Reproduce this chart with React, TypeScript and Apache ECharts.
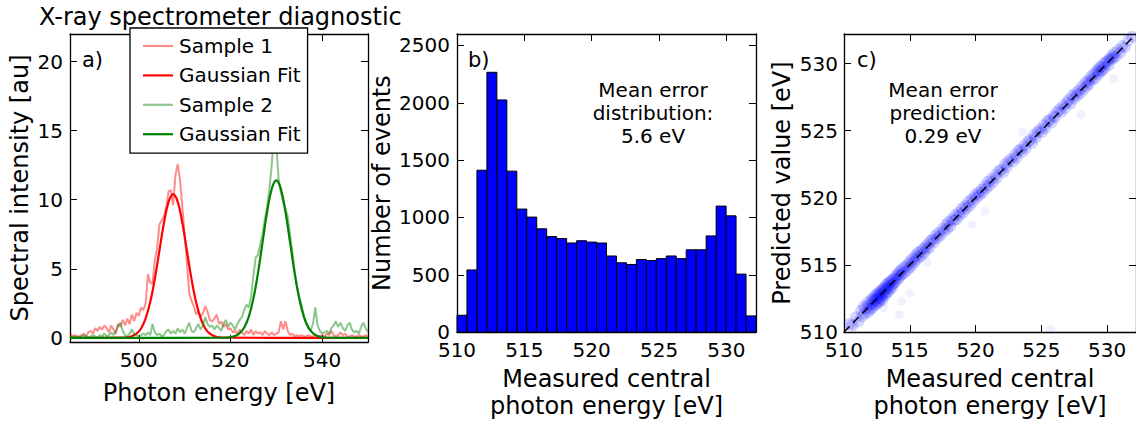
import React, { useEffect, useRef } from 'react';
import * as echarts from 'echarts';

const FONT = 'DejaVu Sans';

// ---------- Panel a: spectra ----------
const energyGrid = [
  485, 485.5, 486, 486.5, 487, 487.5, 488, 488.5, 489, 489.5,
  490, 490.5, 491, 491.5, 492, 492.5, 493, 493.5, 494, 494.5,
  495, 495.5, 496, 496.5, 497, 497.5, 498, 498.5, 499, 499.5,
  500, 500.5, 501, 501.5, 502, 502.5, 503, 503.5, 504, 504.5,
  505, 505.5, 506, 506.5, 507, 507.5, 508, 508.5, 509, 509.5,
  510, 510.5, 511, 511.5, 512, 512.5, 513, 513.5, 514, 514.5,
  515, 515.5, 516, 516.5, 517, 517.5, 518, 518.5, 519, 519.5,
  520, 520.5, 521, 521.5, 522, 522.5, 523, 523.5, 524, 524.5,
  525, 525.5, 526, 526.5, 527, 527.5, 528, 528.5, 529, 529.5,
  530, 530.5, 531, 531.5, 532, 532.5, 533, 533.5, 534, 534.5,
  535, 535.5, 536, 536.5, 537, 537.5, 538, 538.5, 539, 539.5,
  540, 540.5, 541, 541.5, 542, 542.5, 543, 543.5, 544, 544.5,
  545, 545.5, 546, 546.5, 547, 547.5, 548, 548.5, 549, 549.5,
  550,
];

const sample1 = [
  0.3, 0.1, 0.2, 0.1, 0.1, 0.2, 0.3, 0.1, 0.4, 0.5,
  0.3, 0.7, 0.5, 0.8, 0.6, 0.9, 0.7, 0.4, 0.9, 0.6,
  0.3, 1.0, 0.8, 1.3, 0.9, 1.4, 1.0, 1.7, 1.2, 1.8,
  1.6, 2.2, 2.0, 2.5, 4.6, 4.0, 3.9, 5.6, 6.5, 8.2,
  8.5, 8.8, 9.5, 10.6, 10.7, 9.6, 11.8, 12.6, 11.4, 9.5,
  7.5, 5.5, 3.2, 2.7, 2.3, 1.7, 1.9, 1.5, 1.8, 2.3,
  1.9, 1.3, 1.2, 1.4, 1.7, 1.0, 1.2, 0.8, 1.0, 0.6,
  0.7, 0.4, 0.5, 0.3, 0.6, 0.4, 0.2, 0.5, 0.3, 0.6,
  0.2, 0.5, 0.3, 0.4, 0.2, 0.5, 0.3, 0.2, 0.4, 0.2,
  0.3, 0.4, 1.2, 0.6, 1.2, 0.5, 0.2, 0.3, 0.1, 0.2,
  0.1, 0.2, 0.1, 0.1, 0.2, 0.1, 0.1, 0.2, 0.1, 0.1,
  0.2, 0.1, 0.3, 0.2, 0.5, 0.2, 0.1, 0.2, 0.4, 0.2,
  0.3, 0.1, 0.1, 0.2, 0.1, 0.1, 0.2, 0.1, 0.1, 0.2,
  0.1,
];

const sample2 = [
  0.0, 0.1, 0.0, 0.1, 0.0, 0.1, 0.2, 0.1, 0.0, 0.1,
  0.2, 0.1, 0.0, 0.2, 0.1, 0.3, 0.1, 0.2, 0.4, 0.2,
  0.5, 0.9, 1.1, 0.5, 0.2, 0.1, 0.3, 0.6, 0.3, 0.2,
  0.1, 0.2, 0.3, 0.2, 0.4, 0.2, 1.0, 0.4, 0.2, 0.3,
  0.1, 0.2, 0.5, 0.6, 0.3, 0.5, 0.3, 0.7, 0.4, 0.6,
  0.3, 0.7, 1.1, 0.5, 0.4, 0.7, 1.0, 0.6, 0.9, 1.5,
  1.0, 0.8, 0.9, 0.6, 0.9, 0.7, 0.5, 1.0, 1.3, 0.8,
  1.1, 0.9, 0.6, 1.0, 1.3, 1.5, 2.0, 2.4, 2.2, 3.0,
  4.5, 5.8, 6.0, 6.8, 7.5, 8.6, 9.5, 10.8, 12.5, 14.8,
  14.0, 11.5, 10.5, 9.8, 9.3, 8.8, 7.5, 6.2, 4.8, 3.8,
  3.0, 2.4, 1.6, 1.1, 0.7, 0.5, 1.0, 2.2, 0.9, 0.5,
  0.3, 0.4, 0.5, 0.3, 0.7, 0.9, 1.2, 0.8, 1.1, 0.7,
  0.5, 0.9, 1.1, 0.6, 0.4, 0.5, 0.3, 0.8, 1.1, 0.7,
  0.4,
];

const fit1Energy = [485, 496.5, 497.5, 498.5, 499.5, 500.5, 501.5, 502.5, 503.5, 504.5, 505.5, 506.5, 507.5, 508.5, 509.5, 510.5, 511.5, 512.5, 513.5, 514.5, 515.5, 516.5, 517.5, 518.5, 550];
const fit1Values = [0, 0.01, 0.04, 0.12, 0.3, 0.68, 1.41, 2.59, 4.27, 6.31, 8.33, 9.84, 10.4, 9.84, 8.33, 6.31, 4.27, 2.59, 1.41, 0.68, 0.3, 0.12, 0.04, 0.01, 0];
const fit2Energy = [485, 519, 520, 521, 522, 523, 524, 525, 526, 527, 528, 529, 530, 531, 532, 533, 534, 535, 536, 537, 538, 539, 540, 541, 550];
const fit2Values = [0, 0.01, 0.04, 0.13, 0.33, 0.75, 1.54, 2.84, 4.69, 6.92, 9.13, 10.78, 11.4, 10.78, 9.13, 6.92, 4.69, 2.84, 1.54, 0.75, 0.33, 0.13, 0.04, 0.01, 0];

const aXTicks = [500, 520, 540];
const aYTicks = [0, 5, 10, 15, 20];

// ---------- Panel b: histogram ----------
const binEdges = [510.0, 510.74, 511.48, 512.22, 512.96, 513.7, 514.44, 515.18, 515.92, 516.66, 517.4, 518.14, 518.88, 519.62, 520.36, 521.1, 521.84, 522.58, 523.32, 524.06, 524.8, 525.54, 526.28, 527.02, 527.76, 528.5, 529.24, 529.98, 530.72, 531.46, 532.2];
const histCounts = [147, 542, 1412, 2266, 2025, 1404, 1073, 1003, 901, 833, 816, 777, 797, 785, 777, 664, 605, 590, 633, 624, 641, 664, 641, 718, 718, 839, 1099, 1014, 506, 141];
const bXTicks = [510, 515, 520, 525, 530];
const bYTicks = [0, 500, 1000, 1500, 2000, 2500];

// ---------- Panel c: prediction scatter ----------
const predPoints = [
  [510.4, 510.6], [510.6, 510.5],
  [510.9, 511.1], [511.1, 510.8], [511.3, 511.6], [511.4, 511.2],
  [511.5, 511.9], [511.6, 511.4], [511.7, 511.8], [511.8, 512.2], [511.85, 511.5], [511.9, 512.0], [512.0, 511.7], [512.05, 512.4], [512.1, 512.1], [512.15, 511.8], [512.2, 512.5],
  [512.25, 512.3], [512.3, 512.0], [512.35, 512.7], [512.4, 512.4], [512.45, 512.1], [512.5, 512.8], [512.52, 512.5], [512.58, 512.2], [512.6, 512.9], [512.65, 512.6], [512.7, 512.3], [512.72, 513.0], [512.78, 512.8], [512.8, 512.5], [512.85, 513.1], [512.88, 512.7], [512.92, 512.4], [512.95, 513.2],
  [513.0, 512.9], [513.05, 513.3], [513.1, 512.7], [513.12, 513.1], [513.18, 513.5], [513.22, 512.9], [513.28, 513.3], [513.3, 513.6], [513.35, 513.0], [513.4, 513.4], [513.45, 513.7], [513.5, 513.2], [513.55, 513.8], [513.6, 513.5], [513.65, 513.3], [513.68, 513.9],
  [513.75, 513.6], [513.8, 514.0], [513.88, 513.7], [513.95, 514.2], [514.0, 513.9], [514.08, 514.3], [514.15, 514.0], [514.2, 514.5], [514.28, 514.2], [514.35, 514.6], [514.4, 514.3],
  [514.5, 514.8], [514.6, 514.4], [514.7, 514.9], [514.8, 514.6], [514.9, 515.1], [515.0, 514.8], [515.05, 515.3], [515.15, 515.0],
  [515.25, 515.5], [515.35, 515.2], [515.45, 515.7], [515.5, 515.4], [515.6, 515.9], [515.7, 515.6], [515.8, 516.0], [515.88, 515.7],
  [516.0, 516.2], [516.1, 515.9], [516.2, 516.4], [516.3, 516.2], [516.4, 516.6], [516.5, 516.3], [516.6, 516.8],
  [516.75, 516.9], [516.85, 516.7], [516.95, 517.2], [517.1, 517.0], [517.2, 517.4], [517.32, 517.2],
  [517.5, 517.7], [517.6, 517.5], [517.75, 518.0], [517.85, 517.7], [517.95, 518.2], [518.08, 517.9],
  [518.2, 518.4], [518.35, 518.3], [518.45, 518.7], [518.55, 518.4], [518.7, 518.9], [518.8, 518.7],
  [518.95, 519.2], [519.05, 518.9], [519.2, 519.4], [519.3, 519.2], [519.45, 519.7], [519.55, 519.4],
  [519.7, 519.9], [519.82, 519.7], [519.95, 520.2], [520.05, 520.0], [520.2, 520.4], [520.3, 520.2],
  [520.45, 520.6], [520.55, 520.4], [520.7, 520.9], [520.8, 520.7], [520.95, 521.2], [521.05, 520.9],
  [521.2, 521.4], [521.35, 521.2], [521.5, 521.7], [521.62, 521.5], [521.78, 522.0],
  [521.95, 522.1], [522.1, 521.9], [522.25, 522.5], [522.38, 522.3], [522.5, 522.7],
  [522.7, 522.9], [522.85, 522.7], [523.0, 523.2], [523.12, 523.0], [523.25, 523.5],
  [523.42, 523.6], [523.55, 523.4], [523.7, 523.9], [523.82, 523.7], [523.98, 524.2],
  [524.15, 524.3], [524.3, 524.1], [524.45, 524.7], [524.58, 524.5], [524.72, 524.9],
  [524.9, 525.1], [525.05, 524.9], [525.2, 525.4], [525.32, 525.2], [525.48, 525.7],
  [525.62, 525.8], [525.78, 525.6], [525.92, 526.1], [526.05, 526.0], [526.2, 526.4],
  [526.38, 526.6], [526.52, 526.4], [526.68, 526.9], [526.8, 526.7], [526.95, 527.1],
  [527.1, 527.3], [527.22, 527.0], [527.35, 527.6], [527.48, 527.4], [527.6, 527.8], [527.72, 527.6],
  [527.85, 528.0], [527.98, 527.8], [528.1, 528.3], [528.22, 528.1], [528.35, 528.6], [528.45, 528.3],
  [528.55, 528.7], [528.65, 528.5], [528.75, 529.0], [528.85, 528.8], [528.95, 529.2], [529.08, 528.9], [529.18, 529.4],
  [529.28, 529.5], [529.35, 529.2], [529.42, 529.7], [529.5, 529.4], [529.58, 529.8], [529.65, 529.5], [529.75, 530.0], [529.82, 529.7], [529.92, 530.1],
  [530.05, 530.2], [530.12, 529.9], [530.2, 530.4], [530.3, 530.3], [530.38, 530.6], [530.48, 530.4], [530.58, 530.8], [530.65, 530.5],
  [530.85, 531.0], [531.0, 530.8], [531.15, 531.3], [531.35, 531.2],
  [531.6, 531.7], [531.9, 532.0],
];
const outlierPoints = [
  [514.2, 511.3], [515.0, 512.9], [514.4, 512.3], [520.7, 519.0], [519.7, 518.0], [530.5, 528.9],
  [528.0, 526.2], [525.7, 510.2], [523.6, 524.9], [513.0, 511.8], [516.3, 515.2], [510.8, 510.4],
];
const identityLine = [[510, 510], [532.2, 532.2]];
const cTicks = [510, 515, 520, 525, 530];

const legendLabels: Record<string, string> = {
  'Sample 1': 'Sample 1',
  fit1: 'Gaussian Fit',
  'Sample 2': 'Sample 2',
  fit2: 'Gaussian Fit',
};

const zip = (xs: number[], ys: number[]) => xs.map((x, i) => [x, ys[i]]);

const lineAxis = { show: true, onZero: false, lineStyle: { color: '#000', width: 1.3 } };
const ticks = (vals: number[]) => ({
  show: true, inside: true, length: 7, customValues: vals,
  lineStyle: { color: '#000', width: 1 },
});
const labelStyle = { fontSize: 20, lineHeight: 16, color: '#000', fontFamily: FONT, formatter: (v: number) => String(v) };
const nameStyle = { fontSize: 24, color: '#000', fontFamily: FONT, lineHeight: 27 };

function mainX(grid: number, min: number, max: number, tv: number[], name: string, nameGap: number) {
  return {
    type: 'value', gridIndex: grid, position: 'bottom', min, max,
    axisLine: lineAxis, axisTick: ticks(tv),
    axisLabel: { ...labelStyle, customValues: tv, margin: 10 },
    splitLine: { show: false },
    name, nameLocation: 'middle', nameGap, nameTextStyle: nameStyle,
  };
}
function topX(grid: number, min: number, max: number, tv: number[]) {
  return {
    type: 'value', gridIndex: grid, position: 'top', min, max,
    axisLine: lineAxis, axisTick: ticks(tv),
    axisLabel: { show: false }, splitLine: { show: false },
  };
}
function mainY(grid: number, min: number, max: number, tv: number[], name: string, nameGap: number, margin: number) {
  return {
    type: 'value', gridIndex: grid, position: 'left', min, max,
    axisLine: lineAxis, axisTick: ticks(tv),
    axisLabel: { ...labelStyle, customValues: tv, margin },
    splitLine: { show: false },
    name, nameLocation: 'middle', nameGap, nameTextStyle: nameStyle,
  };
}
function rightY(grid: number, min: number, max: number, tv: number[]) {
  return {
    type: 'value', gridIndex: grid, position: 'right', min, max,
    axisLine: lineAxis, axisTick: ticks(tv),
    axisLabel: { show: false }, splitLine: { show: false },
  };
}

const textEl = (text: string, x: number, y: number, align: string, size = 20, lh = 23) => ({
  type: 'text', x, y, z: 100,
  style: { text, fill: '#000', font: `${size}px "${FONT}"`, fontSize: size, fontFamily: FONT, align, verticalAlign: 'middle', lineHeight: lh },
});

const option: any = {
  animation: false,
  backgroundColor: '#fff',
  grid: [
    { left: 70, top: 34, width: 298, height: 308 },
    { left: 457, top: 34, width: 299, height: 308 },
    { left: 844, top: 34, width: 299, height: 308 },
  ],
  xAxis: [
    mainX(0, 485, 550, aXTicks, 'Photon energy [eV]', 37),
    topX(0, 485, 550, aXTicks),
    mainX(1, 510, 532.2, bXTicks, 'Measured central\nphoton energy [eV]', 28),
    topX(1, 510, 532.2, bXTicks),
    mainX(2, 510, 532.2, cTicks, 'Measured central\nphoton energy [eV]', 28),
    topX(2, 510, 532.2, cTicks),
  ],
  yAxis: [
    mainY(0, -0.3, 22, aYTicks, 'Spectral intensity [au]', 36, 7),
    rightY(0, -0.3, 22, aYTicks),
    mainY(1, 0, 2600, bYTicks, 'Number of events', 59, 7),
    rightY(1, 0, 2600, bYTicks),
    mainY(2, 510, 532.2, cTicks, 'Predicted value [eV]', 47, 6),
    rightY(2, 510, 532.2, cTicks),
  ],
  legend: {
    data: ['Sample 1', 'fit1', 'Sample 2', 'fit2'],
    formatter: (n: string) => legendLabels[n],
    icon: 'rect',
    orient: 'vertical', left: 130, top: 28,
    itemWidth: 30, itemHeight: 2.2, itemGap: 9.4,
    padding: [8, 7, 9, 13],
    backgroundColor: '#fff', borderColor: '#000', borderWidth: 1.3, borderRadius: 0,
    textStyle: { fontSize: 20, fontFamily: FONT, color: '#000', lineHeight: 20, padding: [0, 0, 0, 1] },
    selectedMode: false,
  },
  series: [
    {
      name: 'Sample 1', type: 'line', xAxisIndex: 0, yAxisIndex: 0, data: zip(energyGrid, sample1),
      symbol: 'none', color: 'rgba(255,0,0,0.45)', lineStyle: { color: 'rgba(255,0,0,0.45)', width: 2 },
    },
    {
      name: 'fit1', type: 'line', xAxisIndex: 0, yAxisIndex: 0, data: zip(fit1Energy, fit1Values),
      symbol: 'none', smooth: 0.4, color: '#ff0000', lineStyle: { color: '#ff0000', width: 2.2 },
    },
    {
      name: 'Sample 2', type: 'line', xAxisIndex: 0, yAxisIndex: 0, data: zip(energyGrid, sample2),
      symbol: 'none', color: 'rgba(0,128,0,0.45)', lineStyle: { color: 'rgba(0,128,0,0.45)', width: 2 },
    },
    {
      name: 'fit2', type: 'line', xAxisIndex: 0, yAxisIndex: 0, data: zip(fit2Energy, fit2Values),
      symbol: 'none', smooth: 0.4, color: '#008000', lineStyle: { color: '#008000', width: 2.2 },
    },
    {
      name: 'hist', type: 'custom', xAxisIndex: 2, yAxisIndex: 2,
      data: histCounts.map((c, i) => [binEdges[i], binEdges[i + 1], c]),
      encode: { x: [0, 1], y: 2 },
      renderItem: (params: any, api: any) => {
        const p0 = api.coord([api.value(0), api.value(2)]);
        const p1 = api.coord([api.value(1), 0]);
        return {
          type: 'rect',
          shape: { x: p0[0], y: p0[1], width: p1[0] - p0[0], height: p1[1] - p0[1] },
          style: { fill: '#0000ff', stroke: '#000', lineWidth: 1 },
        };
      },
    },
    {
      name: 'pred', type: 'scatter', xAxisIndex: 4, yAxisIndex: 4, data: predPoints,
      symbol: 'circle', symbolSize: 12,
      itemStyle: { color: '#0000ff', opacity: 0.16 },
    },
    {
      name: 'outliers', type: 'scatter', xAxisIndex: 4, yAxisIndex: 4, data: outlierPoints,
      symbol: 'circle', symbolSize: 9,
      itemStyle: { color: '#0000ff', opacity: 0.06 },
    },
    {
      name: 'ideal', type: 'line', xAxisIndex: 4, yAxisIndex: 4, data: identityLine,
      symbol: 'none', z: 5, lineStyle: { color: '#000', width: 1.5, type: [8, 5] },
    },
  ],
  graphic: [
    textEl('X-ray spectrometer diagnostic', 39, 17, 'left', 24),
    textEl('a)', 82, 60, 'left', 21),
    textEl('b)', 468, 60, 'left', 21),
    textEl('c)', 857, 60, 'left', 21),
    textEl('Mean error\ndistribution:\n5.6 eV', 653, 113, 'center', 20, 23),
    textEl('Mean error\nprediction:\n0.29 eV', 943, 113, 'center', 20, 23),
  ],
};

export default function App() {
  const ref = useRef<HTMLDivElement>(null);
  useEffect(() => {
    if (!ref.current) return;
    const chart = echarts.init(ref.current, null, { renderer: 'svg' });
    chart.setOption(option);
    return () => chart.dispose();
  }, []);
  return (
    <div
      ref={ref}
      style={{ position: 'absolute', left: 0, top: 0, width: 1136, height: 424, background: '#fff', overflow: 'hidden' }}
    />
  );
}
